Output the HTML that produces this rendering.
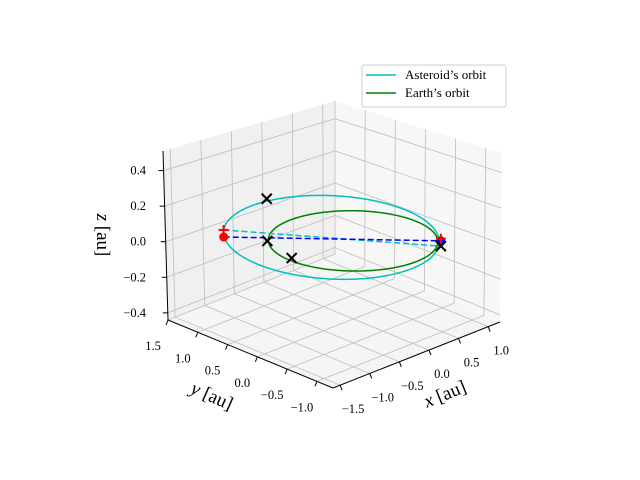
<!DOCTYPE html>
<html><head><meta charset="utf-8"><style>
html,body{margin:0;padding:0;background:#fff;}
svg{display:block;font-family:"Liberation Serif",serif;}
</style></head><body>
<svg id="chart" width="640" height="480" viewBox="0 0 640 480" xmlns="http://www.w3.org/2000/svg">
<g id="panes"></g>
<g id="grid"></g>
<g id="axes"></g>
<g id="series"></g>
<text x="445" y="400" font-size="19" text-anchor="middle" transform="rotate(-22 445 394)"><tspan font-style="italic">x</tspan> [au]</text>
<text x="212" y="402" font-size="19" text-anchor="middle" transform="rotate(24 212 396)"><tspan font-style="italic">y</tspan> [au]</text>
<text x="103" y="241" font-size="19" text-anchor="middle" transform="rotate(90 103 235)"><tspan font-style="italic">z</tspan> [au]</text>
<g>
<rect x="362" y="65" width="144" height="42" rx="2" fill="#fff" fill-opacity="0.85" stroke="#ccc" stroke-width="1"/>
<line x1="366" y1="75" x2="396" y2="75" stroke="#00bfbf" stroke-width="1.6"/>
<text x="405" y="79" font-size="13">Asteroid’s orbit</text>
<line x1="366" y1="93" x2="396" y2="93" stroke="#008000" stroke-width="1.6"/>
<text x="405" y="97" font-size="13">Earth’s orbit</text>
</g>
</svg>
<script>
// axis data
const xTicks=[-1.5,-1.0,-0.5,0.0,0.5,1.0];
const yTicks=[-1.0,-0.5,0.0,0.5,1.0,1.5];
const zTicks=[-0.4,-0.2,0.0,0.2,0.4];
const xRange=[-1.62,1.2];
const yRange=[-1.27,1.5];
const zRange=[-0.44,0.51];
// orbit data
const earthRadius=[1.0];
const asteroidSemiMajor=[1.27];
const asteroidEcc=[0.2];
const asteroidPeriAngleDeg=[-45];
const asteroidIncl=[0.02];
const asteroidTilt=[-0.016];
// markers [x,y,z]
const redDots=[[-1.015,1.14,0.0]];
const blueDots=[[0.753,-0.712,0.0]];
const redPlus=[[-1.015,1.14,0.04],[0.753,-0.712,0.012]];
const blackX=[[0.055,1.49,0.05],[-0.736,0.694,0.0],[-0.93,0.097,0.0],[0.628,-0.837,0.0]];
const blueLine=[[-1.015,1.14,0.0],[0.753,-0.712,0.0]];
const cyanLine=[[-1.015,1.14,0.04],[0.628,-0.837,0.0]];

const NS="http://www.w3.org/2000/svg";
function mk(tag,attrs,parent){const e=document.createElementNS(NS,tag);for(const k in attrs)e.setAttribute(k,attrs[k]);parent.appendChild(e);return e;}
function nrm(v,r){return (v-r[0])/(r[1]-r[0]);}
function proj(x,y,z){
  const X=nrm(x,xRange),Y=nrm(y,yRange),Z=nrm(z,zRange);
  const h=185-16*(X+Y);
  const ezx=-5*Y*(1-X)+2*X*(1-Y);
  return [333+167*X-165*Y+ezx*Z, 388-66*X-68*Y-h*Z];
}
function projD(x,y,z){return proj(x,y,z);}
const panes=document.getElementById('panes'),grid=document.getElementById('grid'),axes=document.getElementById('axes'),series=document.getElementById('series');
function poly(pts,fill,name,parent){const e=mk('polygon',{points:pts.map(p=>p.join(',')).join(' '),fill:fill,stroke:'none'},parent);

}
const [x0,x1]=xRange,[y0,y1]=yRange,[z0,z1]=zRange;
poly([proj(x0,y0,z0),proj(x1,y0,z0),proj(x1,y1,z0),proj(x0,y1,z0)],'#f5f5f5','floor-pane',panes);
poly([proj(x0,y1,z0),proj(x1,y1,z0),proj(x1,y1,z1),proj(x0,y1,z1)],'#f0f0f0','back-left-pane',panes);
poly([proj(x1,y0,z0),proj(x1,y1,z0),proj(x1,y1,z1),proj(x1,y0,z1)],'#f7f7f7','back-right-pane',panes);
function ln(a,b,stroke,w,name,parent,dash){const e=mk('line',{x1:a[0],y1:a[1],x2:b[0],y2:b[1],stroke:stroke,'stroke-width':w},parent);if(dash)e.setAttribute('stroke-dasharray',dash);

return e;}
const gc='#bdbdbd';
xTicks.forEach(t=>{ln(proj(t,y0,z0),proj(t,y1,z0),gc,0.8,'grid-x-floor',grid);ln(proj(t,y1,z0),proj(t,y1,z1),gc,0.8,'grid-x-wall',grid);});
yTicks.forEach(t=>{ln(proj(x0,t,z0),proj(x1,t,z0),gc,0.8,'grid-y-floor',grid);ln(proj(x1,t,z0),proj(x1,t,z1),gc,0.8,'grid-y-wall',grid);});
zTicks.forEach(t=>{ln(proj(x0,y1,t),proj(x1,y1,t),gc,0.8,'grid-z-left',grid);ln(proj(x1,y1,t),proj(x1,y0,t),gc,0.8,'grid-z-right',grid);});
// axis lines
ln(proj(x0,y0,z0),proj(x1,y0,z0),'#000',1,'x-axis-line',axes);
ln(proj(x0,y0,z0),proj(x0,y1,z0),'#000',1,'y-axis-line',axes);
ln(proj(x0,y1,z0),proj(x0,y1,z1),'#000',1,'z-axis-line',axes);
function fmt(v){const s=Math.abs(v).toFixed(1);return (v<0?'\u2212':'')+s;}
function txt(s,x,y,anchor,name){const e=mk('text',{x:x,y:y,'font-size':12.5,'text-anchor':anchor},axes);e.textContent=s;

}
xTicks.forEach(t=>{const p=proj(t,y0,z0);ln(p,[p[0]+2,p[1]+5],'#000',1,'x-tick',axes);txt(fmt(t),p[0]+13,p[1]+28,'middle','x-tick-label');});
yTicks.forEach(t=>{const p=proj(x0,t,z0);ln(p,[p[0]-2,p[1]+5],'#000',1,'y-tick',axes);txt(fmt(t),p[0]-15,p[1]+30,'middle','y-tick-label');});
zTicks.forEach(t=>{const p=proj(x0,y1,t);ln(p,[p[0]-5,p[1]],'#000',1,'z-tick',axes);txt(fmt(t),146,p[1]+4,'end','z-tick-label');});
// orbits
function path(pts,stroke,name,dash){const d=pts.map((p,i)=>(i?'L':'M')+p[0].toFixed(2)+','+p[1].toFixed(2)).join('');const e=mk('path',{d:d,fill:'none',stroke:stroke,'stroke-width':1.5},series);if(dash)e.setAttribute('stroke-dasharray',dash);

}
const N=200;
const ep=[];for(let i=0;i<=N;i++){const t=2*Math.PI*i/N;ep.push(projD(earthRadius[0]*Math.cos(t),earthRadius[0]*Math.sin(t),0));}
path(ep,'#008000','earth-orbit');
const a=asteroidSemiMajor[0],e=asteroidEcc[0],b=a*Math.sqrt(1-e*e),w=asteroidPeriAngleDeg[0]*Math.PI/180,si=asteroidIncl[0],tl=asteroidTilt[0],qd=a*(1-e);
const ap=[];for(let i=0;i<=N;i++){const E=2*Math.PI*i/N;const u=a*(Math.cos(E)-e),v=b*Math.sin(E);
ap.push(projD(u*Math.cos(w)-v*Math.sin(w),u*Math.sin(w)+v*Math.cos(w),v*si+tl*(u-qd)));}
path(ap,'#00bfbf','asteroid-orbit');
path(cyanLine.map(p=>projD(...p)),'#00bfbf','asteroid-node-line','6,3');
path(blueLine.map(p=>projD(...p)),'#0000ff','apsis-line','6,3');
redDots.forEach(p=>{const q=projD(...p);const c=mk('circle',{cx:q[0],cy:q[1],r:4.5,fill:'#ff0000'},series);

});
blueDots.forEach(p=>{const q=projD(...p);const c=mk('circle',{cx:q[0],cy:q[1],r:4.5,fill:'#0000ff'},series);

});
redPlus.forEach(p=>{const q=projD(...p);ln([q[0]-5,q[1]],[q[0]+5,q[1]],'#ff0000',2,'red-plus-marker',series);ln([q[0],q[1]-5],[q[0],q[1]+5],'#ff0000',2,'red-plus-marker',series);});
blackX.forEach(p=>{const q=projD(...p);ln([q[0]-5,q[1]-5],[q[0]+5,q[1]+5],'#000',2,'black-x-marker',series);ln([q[0]-5,q[1]+5],[q[0]+5,q[1]-5],'#000',2,'black-x-marker',series);});
</script>
</body></html>
